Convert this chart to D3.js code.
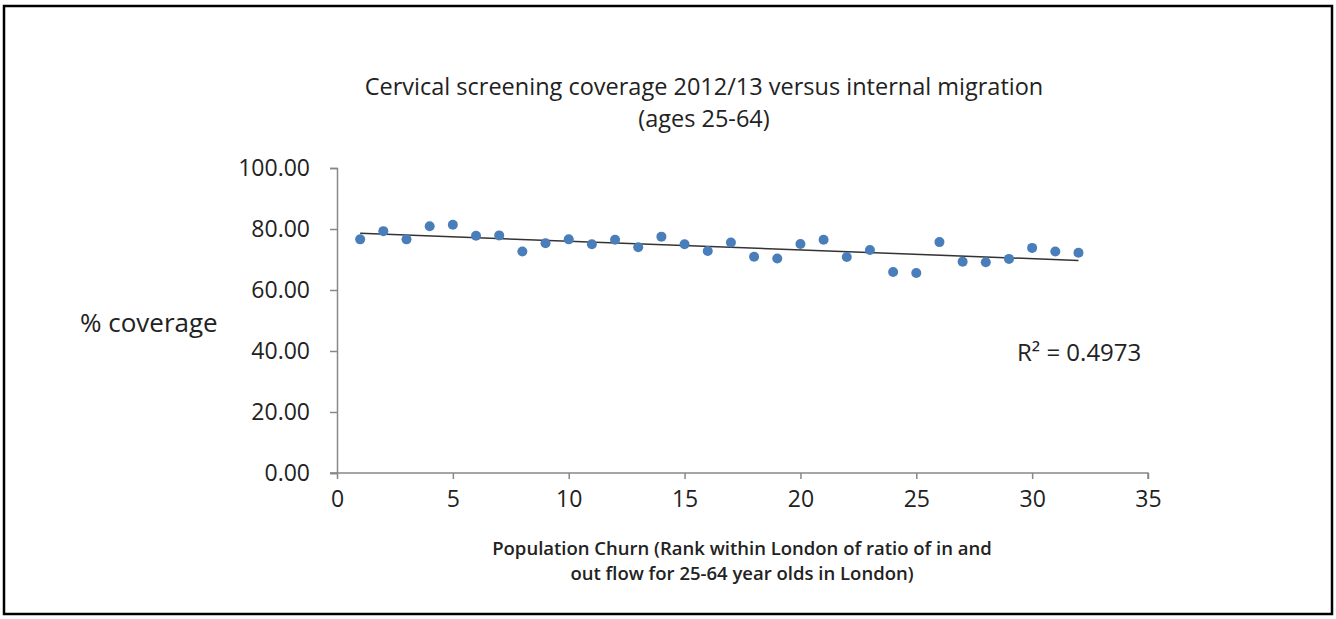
<!DOCTYPE html>
<html>
<head>
<meta charset="utf-8">
<script src="https://cdn.jsdelivr.net/npm/d3@7"></script>
<style>
body { margin: 0; background: #fff; }
svg { display: block; }
text { font-family: "Open Sans", "Noto Sans", sans-serif; fill: #222; }
</style>
</head>
<body>
<svg id="chart" width="1336" height="619"></svg>
<script>
// rank within London (x) and % coverage (y)
var ranks = [1,2,3,4,5,6,7,8,9,10,11,12,13,14,15,16,17,18,19,20,21,22,23,24,25,26,27,28,29,30,31,32];
var coverage = [76.6,79.3,76.6,80.9,81.4,77.8,77.9,72.6,75.3,76.6,75.0,76.5,74.0,77.5,75.0,72.8,
	75.6,70.9,70.3,75.1,76.5,70.8,73.1,65.9,65.6,75.7,69.3,69.1,70.2,73.8,72.6,72.2];
var x_ticks = [0,5,10,15,20,25,30,35];
var y_ticks = [0,20,40,60,80,100];
var title_lines = ['Cervical screening coverage 2012/13 versus internal migration', '(ages 25-64)'];
var x_label_lines = ['Population Churn (Rank within London of ratio of in and', 'out flow for 25-64 year olds in London)'];
var y_label = '% coverage';
var r2_label = 'R\u00b2 = 0.4973';

var svg = d3.select('#chart');

svg.append('rect')
	.attr('x', 4).attr('y', 6)
	.attr('width', 1328).attr('height', 608)
	.attr('fill', 'none')
	.attr('stroke', '#000')
	.attr('stroke-width', 2.5);

var x = d3.scaleLinear().domain([0, 35]).range([337, 1148]);
var y = d3.scaleLinear().domain([0, 100]).range([473, 168]);

var data = ranks.map(function(r, i) { return {x: r, y: coverage[i]}; });

// axes
var xAxis = svg.append('g')
	.attr('transform', 'translate(0,' + y(0) + ')')
	.call(d3.axisBottom(x).tickValues(x_ticks).tickSize(6).tickPadding(12).tickFormat(d3.format('d')));
var yAxis = svg.append('g')
	.attr('transform', 'translate(' + x(0) + ',0)')
	.call(d3.axisLeft(y).tickValues(y_ticks).tickSize(7).tickPadding(20).tickFormat(d3.format('.2f')));

[xAxis, yAxis].forEach(function(a) {
	a.select('.domain').attr('stroke', '#888').attr('stroke-width', 1.5);
	a.selectAll('.tick line').attr('stroke', '#888').attr('stroke-width', 1.5);
	a.selectAll('.tick text').style('font-size', '23px').attr('fill', '#222');
});
xAxis.select('.domain').attr('d', 'M' + (x(0) - 7) + ',0H' + x(35) + 'V6');

// linear trendline
var mx = d3.mean(data, function(d) { return d.x; });
var my = d3.mean(data, function(d) { return d.y; });
var sxy = d3.sum(data, function(d) { return (d.x - mx) * (d.y - my); });
var sxx = d3.sum(data, function(d) { return (d.x - mx) * (d.x - mx); });
var slope = sxy / sxx;
var intercept = my - slope * mx;
var x0 = d3.min(ranks), x1 = d3.max(ranks);

svg.append('line')
	.attr('x1', x(x0)).attr('y1', y(intercept + slope * x0))
	.attr('x2', x(x1)).attr('y2', y(intercept + slope * x1))
	.attr('stroke', '#333')
	.attr('stroke-width', 1.5);

svg.append('g')
	.selectAll('circle')
	.data(data)
	.enter()
	.append('circle')
		.attr('r', 5)
		.attr('cx', function(d) { return x(d.x); })
		.attr('cy', function(d) { return y(d.y); })
		.attr('fill', '#4a7ebb');

// texts
svg.append('g').selectAll('text')
	.data(title_lines)
	.enter()
	.append('text')
		.attr('x', 704)
		.attr('y', function(d, i) { return 95 + i * 32; })
		.attr('text-anchor', 'middle')
		.style('font-size', '23.5px')
		.text(function(d) { return d; });

svg.append('g').selectAll('text')
	.data(x_label_lines)
	.enter()
	.append('text')
		.attr('x', 742)
		.attr('y', function(d, i) { return 555 + i * 25; })
		.attr('text-anchor', 'middle')
		.style('font-size', '18.5px')
		.style('font-weight', '600')
		.text(function(d) { return d; });

svg.append('text')
	.attr('x', 80).attr('y', 332)
	.style('font-size', '26px')
	.text(y_label);

svg.append('text')
	.attr('x', 1017).attr('y', 361)
	.style('font-size', '24px')
	.text(r2_label);
</script>
</body>
</html>
